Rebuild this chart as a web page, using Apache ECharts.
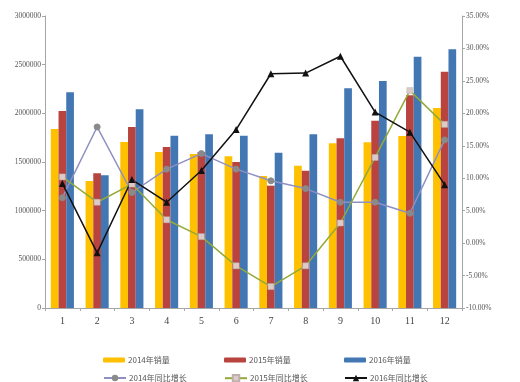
<!DOCTYPE html>
<html>
<head>
<meta charset="utf-8">
<script src="https://cdn.jsdelivr.net/npm/echarts@6/dist/echarts.min.js"></script>
<style>html,body{margin:0;padding:0;background:#fff;}#c{width:520px;height:382px;}</style>
</head>
<body>
<div id="c"></div>
<script>
const categories = ['1','2','3','4','5','6','7','8','9','10','11','12'];
const sales2014 = [1840000,1305000,1705000,1603000,1582000,1558000,1356000,1462000,1692000,1702000,1767000,2055000];
const sales2015 = [2024000,1384000,1860000,1654000,1603000,1500000,1257000,1411000,1743000,1924000,2185000,2428000];
const sales2016 = [2216000,1363000,2041000,1770000,1784000,1770000,1596000,1784000,2257000,2332000,2582000,2658000];
const yoy2014 = [7.0,17.9,7.8,11.4,13.8,11.4,9.6,8.4,6.3,6.3,4.6,15.9];
const yoy2015 = [10.2,6.3,9.1,3.6,1.0,-3.5,-6.7,-3.5,3.1,13.2,23.5,18.3];
const yoy2016 = [9.2,-1.5,9.8,6.3,11.2,17.5,26.1,26.2,28.8,20.2,17.1,9.0];
const seriesNames = ['2014年销量','2015年销量','2016年销量','2014年同比增长','2015年同比增长','2016年同比增长'];

const FONT = "'Liberation Serif','Noto Sans CJK SC',serif";
const chart = echarts.init(document.getElementById('c'));
const legendPos = [[98,351],[219,351],[339,351],[98,369],[219,369],[339,369]];
const legends = seriesNames.map((n,i)=>({
  data:[n], left:legendPos[i][0], top:legendPos[i][1], itemWidth:22, itemHeight:i<3?5:8, itemGap:0,
  textStyle:{fontSize:8, color:'#555', fontFamily:"'Noto Sans CJK SC',sans-serif", padding:[0,0,0,-2]},
  selectedMode:false
}));
chart.setOption({
  animation:false,
  backgroundColor:'#fff',
  legend: legends,
  grid:{left:45, right:58, top:16, bottom:74},
  xAxis:{type:'category', data:categories, boundaryGap:true,
    axisLine:{lineStyle:{color:'#a6a6a6'}},
    axisTick:{show:true, length:3, lineStyle:{color:'#a6a6a6'}},
    axisLabel:{fontSize:10, color:'#444', fontFamily:FONT, margin:8}},
  yAxis:[
    {type:'value', min:0, max:3000000, interval:500000,
     axisLine:{show:true, lineStyle:{color:'#a6a6a6'}},
     axisTick:{show:true, length:3, lineStyle:{color:'#a6a6a6'}},
     splitLine:{show:false},
     axisLabel:{fontSize:7.5, color:'#555', fontFamily:FONT, margin:4, formatter:v=>String(v)}},
    {type:'value', min:-10, max:35, interval:5, position:'right',
     axisLine:{show:true, lineStyle:{color:'#a6a6a6'}},
     axisTick:{show:true, length:3, lineStyle:{color:'#a6a6a6'}},
     splitLine:{show:false},
     axisLabel:{fontSize:7.5, color:'#555', fontFamily:FONT, margin:4, formatter:v=>v.toFixed(2)+'%'}}
  ],
  series:[
    {name:seriesNames[0], type:'bar', data:sales2014, barWidth:7.7, barGap:'0%', itemStyle:{color:'#FFC000'}},
    {name:seriesNames[1], type:'bar', data:sales2015, barWidth:7.7, barGap:'0%', itemStyle:{color:'#B8433F'}},
    {name:seriesNames[2], type:'bar', data:sales2016, barWidth:7.7, barGap:'0%', itemStyle:{color:'#4277B4'}},
    {name:seriesNames[3], type:'line', yAxisIndex:1, data:yoy2014, symbol:'circle', symbolSize:6,
     lineStyle:{color:'#8E90C4', width:1.5}, itemStyle:{color:'#8a8a8a', borderColor:'#8a8a8a'}},
    {name:seriesNames[4], type:'line', yAxisIndex:1, data:yoy2015, symbol:'rect', symbolSize:6,
     lineStyle:{color:'#93A93A', width:1.5}, itemStyle:{color:'#DCCBC6', borderColor:'#bdb0ad', borderWidth:0.5}},
    {name:seriesNames[5], type:'line', yAxisIndex:1, data:yoy2016, symbol:'triangle', symbolSize:7,
     lineStyle:{color:'#111', width:1.5}, itemStyle:{color:'#111'}}
  ]
});
</script>
</body>
</html>
